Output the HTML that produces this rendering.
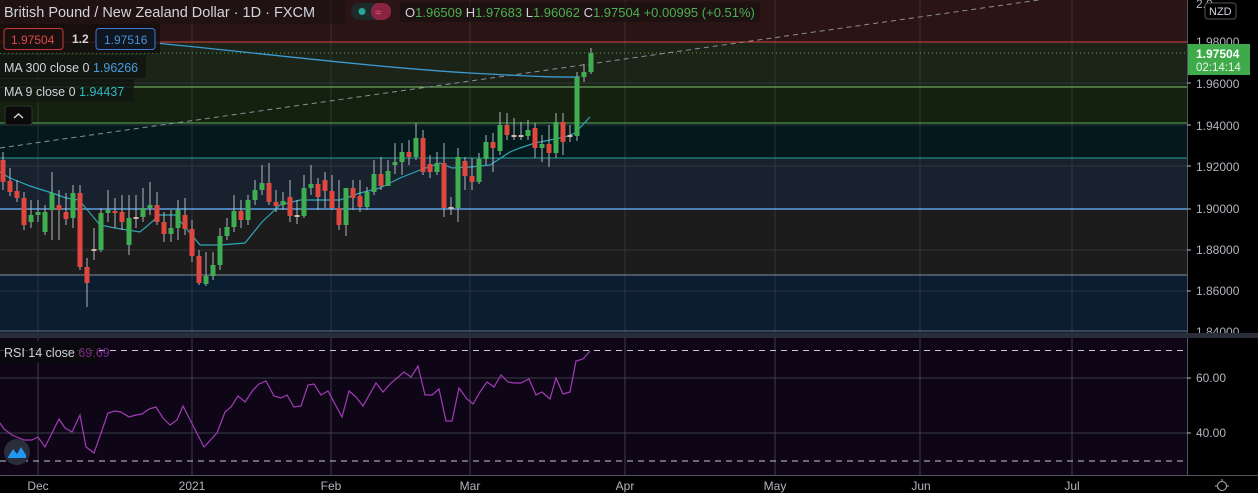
<!DOCTYPE html>
<html><head><meta charset="utf-8"><style>
html,body{margin:0;padding:0;background:#000;width:1258px;height:493px;overflow:hidden;font-family:"Liberation Sans",sans-serif}
svg text{font-family:"Liberation Sans",sans-serif}
</style></head><body>
<svg width="1258" height="493" viewBox="0 0 1258 493" xmlns="http://www.w3.org/2000/svg">
<rect x="0" y="0" width="1258" height="493" fill="#000"/>
<!-- bands -->
<rect x="0" y="0" width="1187" height="42" fill="#2a1414"/>
<rect x="0" y="42" width="1187" height="45" fill="#1c2418"/>
<rect x="0" y="87" width="1187" height="36" fill="#15210f"/>
<rect x="0" y="123" width="1187" height="35" fill="#03191b"/>
<rect x="0" y="158" width="1187" height="51" fill="#17222e"/>
<rect x="0" y="209" width="1187" height="66" fill="#1c1c1c"/>
<rect x="0" y="275" width="1187" height="58" fill="#0b1d30"/>
<!-- grid -->
<g stroke="#3a3f48" stroke-width="1" opacity="0.7">
<line x1="0" y1="42" x2="1187" y2="42"/><line x1="0" y1="83" x2="1187" y2="83"/><line x1="0" y1="125" x2="1187" y2="125"/><line x1="0" y1="166" x2="1187" y2="166"/><line x1="0" y1="250" x2="1187" y2="250"/><line x1="0" y1="291" x2="1187" y2="291"/>
<line x1="38" y1="0" x2="38" y2="475"/><line x1="192" y1="0" x2="192" y2="475"/><line x1="331" y1="0" x2="331" y2="475"/><line x1="470" y1="0" x2="470" y2="475"/><line x1="625" y1="0" x2="625" y2="475"/><line x1="775" y1="0" x2="775" y2="475"/><line x1="920" y1="0" x2="920" y2="475"/><line x1="1072" y1="0" x2="1072" y2="475"/>
</g>
<line x1="0" y1="42" x2="1187" y2="42" stroke="#e04040" stroke-width="1"/>
<line x1="0" y1="87" x2="1187" y2="87" stroke="#7cc46e" stroke-width="1"/>
<line x1="0" y1="123" x2="1187" y2="123" stroke="#5db35a" stroke-width="1"/>
<line x1="0" y1="158" x2="1187" y2="158" stroke="#2aa198" stroke-width="1"/>
<line x1="0" y1="209" x2="1187" y2="209" stroke="#5aa0e0" stroke-width="1.5"/>
<line x1="0" y1="275" x2="1187" y2="275" stroke="#8a8f98" stroke-width="1"/>
<line x1="0" y1="331" x2="1187" y2="331" stroke="#6a7080" stroke-width="1"/>
<!-- pane separator -->
<rect x="0" y="333" width="1258" height="5" fill="#2a2e39"/>
<!-- RSI pane -->
<rect x="0" y="338" width="1187" height="137" fill="#0e0617"/>
<g stroke="#3a3f48" stroke-width="1"><line x1="0" y1="378" x2="1187" y2="378"/><line x1="0" y1="433" x2="1187" y2="433"/>
<line x1="38" y1="338" x2="38" y2="475"/><line x1="192" y1="338" x2="192" y2="475"/><line x1="331" y1="338" x2="331" y2="475"/><line x1="470" y1="338" x2="470" y2="475"/><line x1="625" y1="338" x2="625" y2="475"/><line x1="775" y1="338" x2="775" y2="475"/><line x1="920" y1="338" x2="920" y2="475"/><line x1="1072" y1="338" x2="1072" y2="475"/></g>
<line x1="0" y1="350.5" x2="1187" y2="350.5" stroke="#c8c8c8" stroke-dasharray="6,5"/>
<line x1="0" y1="461" x2="1187" y2="461" stroke="#c8c8c8" stroke-dasharray="6,5"/>
<polyline fill="none" stroke="#a23bb5" stroke-width="1.2" points="0,423 4,429 12,435 24,440 32,440 38,437 45,447 59,419 65,428 72,432 80,415 86,447 94,453 108,413 115,411 121,412 129,417 136,415 142,414 149,409 156,407 163,418 170,425 177,420 183,406 204,447 217,433 225,412 231,407 238,396 245,402 253,390 259,384 266,381 274,396 281,398 287,395 294,407 301,406 308,385 314,384 321,395 328,391 342,417 349,391 356,397 363,406 376,383 383,392 391,383 397,378 404,372 411,377 418,366 425,395 432,395 439,389 446,421 452,421 459,388 467,399 473,404 480,392 487,382 494,387 501,375 508,382 514,383 521,383 529,379 536,395 542,392 550,399 556,378 563,394 570,392 576,361 583,359 590,351"/>
<!-- trend dashed -->
<line x1="0" y1="148" x2="1060" y2="-3" stroke="#8a8f98" stroke-width="1" stroke-dasharray="5,4"/>
<line x1="0" y1="53" x2="1187" y2="53" stroke="#4caf50" stroke-width="1" stroke-dasharray="1,3"/>
<!-- MA300 -->
<path d="M155,43 C250,52 380,68 470,73 S560,77 580,77" fill="none" stroke="#3d9ad0" stroke-width="1.3"/>
<!-- MA9 -->
<polyline fill="none" stroke="#2fa6b8" stroke-width="1.2" points="0,172 10,178 30,186 52,193 66,198 79,200 100,225 115,228 140,232 160,215 175,215 200,245 220,245 245,243 262,222 280,205 300,200 320,200 340,200 360,193 380,188 400,178 420,170 440,163 452,168 470,167 490,165 510,152 520,148 535,143 550,140 565,137 575,133 590,117"/>
<!-- candles -->
<g stroke="#b2b5be" stroke-width="1">
<line x1="3" y1="152" x2="3" y2="190"/><line x1="10" y1="168" x2="10" y2="196"/><line x1="17" y1="180" x2="17" y2="202"/><line x1="24" y1="192" x2="24" y2="230"/><line x1="31" y1="200" x2="31" y2="228"/><line x1="38" y1="200" x2="38" y2="222"/><line x1="45" y1="205" x2="45" y2="235"/><line x1="52" y1="172" x2="52" y2="240"/><line x1="59" y1="190" x2="59" y2="240"/><line x1="66" y1="193" x2="66" y2="225"/><line x1="73" y1="185" x2="73" y2="228"/><line x1="80" y1="185" x2="80" y2="270"/><line x1="87" y1="258" x2="87" y2="307"/><line x1="94" y1="228" x2="94" y2="260"/><line x1="101" y1="208" x2="101" y2="252"/><line x1="108" y1="190" x2="108" y2="222"/><line x1="115" y1="198" x2="115" y2="228"/><line x1="122" y1="195" x2="122" y2="230"/><line x1="129" y1="195" x2="129" y2="255"/><line x1="136" y1="195" x2="136" y2="228"/><line x1="143" y1="188" x2="143" y2="222"/><line x1="150" y1="182" x2="150" y2="215"/><line x1="157" y1="192" x2="157" y2="225"/><line x1="164" y1="212" x2="164" y2="242"/><line x1="171" y1="210" x2="171" y2="242"/><line x1="178" y1="200" x2="178" y2="240"/><line x1="185" y1="198" x2="185" y2="235"/><line x1="192" y1="220" x2="192" y2="262"/><line x1="199" y1="250" x2="199" y2="285"/><line x1="206" y1="252" x2="206" y2="286"/><line x1="213" y1="252" x2="213" y2="280"/><line x1="220" y1="228" x2="220" y2="270"/><line x1="227" y1="218" x2="227" y2="240"/><line x1="234" y1="195" x2="234" y2="232"/><line x1="241" y1="200" x2="241" y2="228"/><line x1="248" y1="195" x2="248" y2="225"/><line x1="255" y1="180" x2="255" y2="205"/><line x1="262" y1="165" x2="262" y2="195"/><line x1="269" y1="163" x2="269" y2="205"/><line x1="276" y1="190" x2="276" y2="212"/><line x1="283" y1="192" x2="283" y2="210"/><line x1="290" y1="180" x2="290" y2="222"/><line x1="297" y1="200" x2="297" y2="224"/><line x1="304" y1="175" x2="304" y2="218"/><line x1="311" y1="165" x2="311" y2="195"/><line x1="318" y1="178" x2="318" y2="210"/><line x1="325" y1="172" x2="325" y2="208"/><line x1="332" y1="175" x2="332" y2="210"/><line x1="339" y1="180" x2="339" y2="230"/><line x1="346" y1="188" x2="346" y2="236"/><line x1="353" y1="180" x2="353" y2="210"/><line x1="360" y1="180" x2="360" y2="212"/><line x1="367" y1="187" x2="367" y2="210"/><line x1="374" y1="160" x2="374" y2="195"/><line x1="381" y1="157" x2="381" y2="190"/><line x1="388" y1="160" x2="388" y2="175"/><line x1="395" y1="143" x2="395" y2="174"/><line x1="402" y1="143" x2="402" y2="175"/><line x1="409" y1="140" x2="409" y2="165"/><line x1="416" y1="123" x2="416" y2="160"/><line x1="423" y1="130" x2="423" y2="175"/><line x1="430" y1="155" x2="430" y2="178"/><line x1="437" y1="152" x2="437" y2="175"/><line x1="444" y1="143" x2="444" y2="217"/><line x1="451" y1="197" x2="451" y2="215"/><line x1="458" y1="148" x2="458" y2="222"/><line x1="465" y1="157" x2="465" y2="190"/><line x1="472" y1="158" x2="472" y2="190"/><line x1="479" y1="153" x2="479" y2="184"/><line x1="486" y1="135" x2="486" y2="165"/><line x1="493" y1="133" x2="493" y2="172"/><line x1="500" y1="112" x2="500" y2="155"/><line x1="507" y1="113" x2="507" y2="140"/><line x1="514" y1="118" x2="514" y2="140"/><line x1="521" y1="122" x2="521" y2="140"/><line x1="528" y1="120" x2="528" y2="140"/><line x1="535" y1="123" x2="535" y2="158"/><line x1="542" y1="135" x2="542" y2="162"/><line x1="549" y1="125" x2="549" y2="167"/><line x1="556" y1="113" x2="556" y2="158"/><line x1="563" y1="113" x2="563" y2="155"/><line x1="570" y1="125" x2="570" y2="142"/><line x1="577" y1="72" x2="577" y2="141"/><line x1="584" y1="64" x2="584" y2="82"/><line x1="591" y1="48" x2="591" y2="74"/>
</g>
<g>
<g fill="#e0483f">
<rect x="0.5" y="160" width="5" height="22"/><rect x="7.5" y="181" width="5" height="11"/><rect x="14.5" y="191" width="5" height="7"/><rect x="21.5" y="198" width="5" height="27"/><rect x="56.5" y="205" width="5" height="5"/><rect x="63.5" y="212" width="5" height="7"/><rect x="77.5" y="193" width="5" height="74"/><rect x="84.5" y="267" width="5" height="16"/><rect x="112.5" y="211" width="5" height="2"/><rect x="119.5" y="212" width="5" height="10"/><rect x="154.5" y="205" width="5" height="17"/><rect x="161.5" y="222" width="5" height="12"/><rect x="182.5" y="215" width="5" height="14"/><rect x="189.5" y="229" width="5" height="27"/><rect x="196.5" y="256" width="5" height="27"/><rect x="238.5" y="211" width="5" height="9"/><rect x="266.5" y="183" width="5" height="19"/><rect x="273.5" y="202" width="5" height="4"/><rect x="287.5" y="197" width="5" height="19"/><rect x="315.5" y="184" width="5" height="13"/><rect x="322.5" y="180" width="5" height="11"/><rect x="329.5" y="191" width="5" height="17"/><rect x="336.5" y="208" width="5" height="17"/><rect x="350.5" y="188" width="5" height="10"/><rect x="357.5" y="196" width="5" height="11"/><rect x="378.5" y="174" width="5" height="12"/><rect x="406.5" y="152" width="5" height="5"/><rect x="420.5" y="138" width="5" height="34"/><rect x="427.5" y="164" width="5" height="8"/><rect x="441.5" y="163" width="5" height="45"/><rect x="462.5" y="161" width="5" height="15"/><rect x="469.5" y="176" width="5" height="6"/><rect x="490.5" y="142" width="5" height="6"/><rect x="504.5" y="125" width="5" height="10"/><rect x="532.5" y="128" width="5" height="20"/><rect x="546.5" y="144" width="5" height="9"/><rect x="560.5" y="122" width="5" height="20"/>
</g>
<g fill="#3fae52">
<rect x="28.5" y="215" width="5" height="7"/><rect x="35.5" y="212" width="5" height="3"/><rect x="42.5" y="212" width="5" height="20"/><rect x="49.5" y="193" width="5" height="17"/><rect x="70.5" y="193" width="5" height="25"/><rect x="98.5" y="213" width="5" height="37"/><rect x="105.5" y="210" width="5" height="3"/><rect x="126.5" y="218" width="5" height="27"/><rect x="140.5" y="208" width="5" height="9"/><rect x="147.5" y="205" width="5" height="3"/><rect x="168.5" y="228" width="5" height="6"/><rect x="175.5" y="210" width="5" height="18"/><rect x="203.5" y="276" width="5" height="8"/><rect x="210.5" y="265" width="5" height="11"/><rect x="217.5" y="236" width="5" height="29"/><rect x="224.5" y="227" width="5" height="9"/><rect x="231.5" y="211" width="5" height="16"/><rect x="245.5" y="200" width="5" height="20"/><rect x="252.5" y="190" width="5" height="10"/><rect x="259.5" y="183" width="5" height="7"/><rect x="280.5" y="201" width="5" height="4"/><rect x="301.5" y="188" width="5" height="28"/><rect x="308.5" y="184" width="5" height="4"/><rect x="343.5" y="188" width="5" height="37"/><rect x="364.5" y="192" width="5" height="15"/><rect x="371.5" y="174" width="5" height="18"/><rect x="385.5" y="171" width="5" height="15"/><rect x="392.5" y="162" width="5" height="3"/><rect x="399.5" y="152" width="5" height="10"/><rect x="413.5" y="138" width="5" height="19"/><rect x="434.5" y="163" width="5" height="9"/><rect x="455.5" y="157" width="5" height="51"/><rect x="476.5" y="159" width="5" height="23"/><rect x="483.5" y="142" width="5" height="17"/><rect x="497.5" y="125" width="5" height="26"/><rect x="525.5" y="130" width="5" height="6"/><rect x="539.5" y="144" width="5" height="4"/><rect x="553.5" y="122" width="5" height="31"/><rect x="574.5" y="77" width="5" height="59"/><rect x="581.5" y="72" width="5" height="5"/><rect x="588.5" y="53" width="5" height="19"/>
</g>
<g fill="#d8b8a8">
<rect x="91.5" y="249" width="5" height="2"/><rect x="133.5" y="217" width="5" height="2"/><rect x="294.5" y="215" width="5" height="2"/><rect x="448.5" y="207" width="5" height="2"/><rect x="511.5" y="135" width="5" height="2"/><rect x="518.5" y="135" width="5" height="2"/><rect x="567.5" y="135" width="5" height="2"/>
</g>
</g>
<!-- header -->
<rect x="0" y="0" width="345" height="24" fill="#1a1010" opacity="0.6"/>
<text x="4" y="17" fill="#d1d4dc" font-size="14.5">British Pound / New Zealand Dollar · 1D · FXCM</text>
<rect x="351" y="3" width="40" height="17" rx="8.5" fill="#1e2a2a"/>
<rect x="371" y="3" width="20" height="17" rx="8" fill="#8a2440"/>
<circle cx="362" cy="11.5" r="3.5" fill="#26a69a"/>
<text x="375" y="16" fill="#e06080" font-size="11">≈</text>
<rect x="400" y="2" width="360" height="20" fill="#1a1010" opacity="0.7"/>
<text x="405" y="17" fill="#4caf50" font-size="13"><tspan fill="#d1d4dc">O</tspan>1.96509 <tspan fill="#d1d4dc">H</tspan>1.97683 <tspan fill="#d1d4dc">L</tspan>1.96062 <tspan fill="#d1d4dc">C</tspan>1.97504 +0.00995 (+0.51%)</text>
<!-- boxes -->
<rect x="0" y="24" width="160" height="29" fill="#140c0c" opacity="0.8"/>
<rect x="4" y="28.5" width="59" height="21" rx="3" fill="#1a0f0f" stroke="#c83a3a"/>
<text x="11" y="44" fill="#e04848" font-size="12">1.97504</text>
<text x="72" y="43" fill="#d1d4dc" font-size="12" font-weight="bold">1.2</text>
<rect x="96" y="28.5" width="59" height="21" rx="3" fill="#0f1620" stroke="#3d7ad0"/>
<text x="104" y="44" fill="#4a90d8" font-size="12">1.97516</text>
<rect x="0" y="55" width="146" height="23" fill="#111611" opacity="0.85"/>
<text x="4" y="72" fill="#d1d4dc" font-size="12.5">MA 300 close 0 <tspan fill="#4a9ae0">1.96266</tspan></text>
<rect x="0" y="79" width="134" height="23" fill="#111611" opacity="0.85"/>
<text x="4" y="96" fill="#d1d4dc" font-size="12.5">MA 9 close 0 <tspan fill="#2fb8c0">1.94437</tspan></text>
<rect x="5" y="106" width="27" height="19" rx="3" fill="#0a0a0a" stroke="#333"/>
<path d="M14,118 L18.5,114 L23,118" fill="none" stroke="#d1d4dc" stroke-width="1.5"/>
<rect x="0" y="341" width="98" height="22" fill="#0a0a0a" opacity="0.8"/>
<text x="4" y="357" fill="#d1d4dc" font-size="12.5">RSI 14 close <tspan fill="#7a2a8a">69.69</tspan></text>
<!-- logo -->
<circle cx="17" cy="452" r="13" fill="#2a2e39"/>
<path d="M8,457 L13,449 L17,454 L21,447 L26,455 L26,458 L8,458 Z" fill="#2196f3"/>
<!-- right axis -->
<rect x="1187" y="0" width="71" height="493" fill="#000"/>
<line x1="1187.5" y1="0" x2="1187.5" y2="493" stroke="#50535e"/>
<g fill="#b2b5be" font-size="12">
<text x="1196" y="8">2.0</text>
<text x="1196" y="46">1.98000</text>
<text x="1196" y="88">1.96000</text>
<text x="1196" y="130">1.94000</text>
<text x="1196" y="171">1.92000</text>
<text x="1196" y="213">1.90000</text>
<text x="1196" y="254">1.88000</text>
<text x="1196" y="295">1.86000</text>
<text x="1196" y="336">1.84000</text>
<text x="1196" y="382">60.00</text>
<text x="1196" y="437">40.00</text>
</g>
<g stroke="#b2b5be"><line x1="1187" y1="83" x2="1191" y2="83"/><line x1="1187" y1="125" x2="1191" y2="125"/><line x1="1187" y1="166" x2="1191" y2="166"/><line x1="1187" y1="209" x2="1191" y2="209"/><line x1="1187" y1="250" x2="1191" y2="250"/><line x1="1187" y1="291" x2="1191" y2="291"/><line x1="1187" y1="378" x2="1191" y2="378"/><line x1="1187" y1="433" x2="1191" y2="433"/></g>
<rect x="1205" y="3" width="31" height="16" rx="3" fill="#000" stroke="#555"/>
<text x="1209" y="15" fill="#d1d4dc" font-size="11">NZD</text>
<rect x="1188" y="44" width="62" height="31" fill="#3faa4a"/>
<text x="1196" y="58" fill="#fff" font-size="12" font-weight="bold">1.97504</text>
<text x="1196" y="71" fill="#e8f5e8" font-size="11.5">02:14:14</text>
<rect x="1187" y="333" width="71" height="5" fill="#2a2e39"/>
<!-- time axis -->
<rect x="0" y="475" width="1258" height="18" fill="#000"/>
<line x1="0" y1="475.5" x2="1258" y2="475.5" stroke="#50535e"/>
<g fill="#b2b5be" font-size="12" text-anchor="middle">
<text x="38" y="490">Dec</text><text x="192" y="490">2021</text><text x="331" y="490">Feb</text><text x="470" y="490">Mar</text><text x="625" y="490">Apr</text><text x="775" y="490">May</text><text x="921" y="490">Jun</text><text x="1072" y="490">Jul</text>
</g>
<circle cx="1222" cy="486" r="4.5" fill="none" stroke="#b2b5be"/>
<g stroke="#b2b5be"><line x1="1222" y1="479" x2="1222" y2="481"/><line x1="1215" y1="486" x2="1217" y2="486"/><line x1="1227" y1="486" x2="1229" y2="486"/></g>
</svg>
</body></html>
